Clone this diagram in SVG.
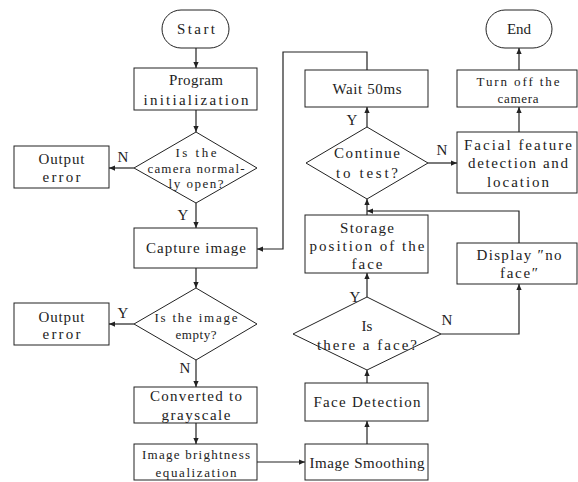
<svg xmlns="http://www.w3.org/2000/svg" width="578" height="482" viewBox="0 0 578 482">
<style>
.b{fill:#fff;stroke:#222;stroke-width:1}
.t{font-family:"Liberation Serif","Times New Roman",serif;font-size:15px;fill:#222;text-anchor:middle}
.s{font-size:13px}
.c{fill:none;stroke:#222;stroke-width:1.2}
</style>
<defs>
<marker id="a" viewBox="0 0 8 8" refX="8" refY="4" markerWidth="6" markerHeight="6" orient="auto" markerUnits="userSpaceOnUse">
<path d="M0,0.5 L8,4 L0,7.5 Z" fill="#222"/>
</marker>
</defs>
<rect width="578" height="482" fill="#fff"/>
<g id="connectors">
<path class="c" d="M196,48 V68" marker-end="url(#a)"/>
<path class="c" d="M196,110 V132" marker-end="url(#a)"/>
<path class="c" d="M134,168 H109" marker-end="url(#a)"/>
<path class="c" d="M196,203 V228" marker-end="url(#a)"/>
<path class="c" d="M196,268 V288" marker-end="url(#a)"/>
<path class="c" d="M134,324 H109" marker-end="url(#a)"/>
<path class="c" d="M196,360 V387" marker-end="url(#a)"/>
<path class="c" d="M196,423 V444" marker-end="url(#a)"/>
<path class="c" d="M257,462 H305" marker-end="url(#a)"/>
<path class="c" d="M367,444 V421" marker-end="url(#a)"/>
<path class="c" d="M367,383 V370" marker-end="url(#a)"/>
<path class="c" d="M367,297 V273" marker-end="url(#a)"/>
<path class="c" d="M441,334 H519 V284" marker-end="url(#a)"/>
<path class="c" d="M519,243 V211 H367" marker-end="url(#a)"/>
<path class="c" d="M367,215 V199" marker-end="url(#a)"/>
<path class="c" d="M367,127 V107" marker-end="url(#a)"/>
<path class="c" d="M428,163 H457" marker-end="url(#a)"/>
<path class="c" d="M519,132 V107" marker-end="url(#a)"/>
<path class="c" d="M519,70 V48" marker-end="url(#a)"/>
<path class="c" d="M367,70 V52 H283 V249 H257" marker-end="url(#a)"/>
<text class="t" x="123" y="162">N</text>
<text class="t" x="183" y="220">Y</text>
<text class="t" x="123" y="318">Y</text>
<text class="t" x="185" y="373">N</text>
<text class="t" x="352" y="125">Y</text>
<text class="t" x="442" y="155">N</text>
<text class="t" x="355" y="302">Y</text>
<text class="t" x="447" y="325">N</text>
</g>
<g id="start">
<rect class="b" x="162" y="10" width="67" height="38" rx="19"/>
<text class="t" x="196" y="34" textLength="38" lengthAdjust="spacing">Start</text>
</g>
<g id="init">
<rect class="b" x="134" y="68" width="123" height="42"/>
<text class="t" x="196" y="85" textLength="54" lengthAdjust="spacing">Program</text>
<text class="t" x="196" y="105" textLength="105" lengthAdjust="spacing">initialization</text>
</g>
<g id="camera-open">
<polygon class="b" points="196,132 257,168 196,203 134,168"/>
<text class="t s" x="196" y="156.5" textLength="41" lengthAdjust="spacing">Is the</text>
<text class="t s" x="196" y="172.5" textLength="97" lengthAdjust="spacing">camera normal-</text>
<text class="t s" x="196" y="187.5" textLength="55" lengthAdjust="spacing">ly open?</text>
</g>
<g id="error1">
<rect class="b" x="14" y="146" width="95" height="42"/>
<text class="t" x="61.5" y="164" textLength="46" lengthAdjust="spacing">Output</text>
<text class="t" x="61.5" y="182" textLength="38" lengthAdjust="spacing">error</text>
</g>
<g id="capture">
<rect class="b" x="134" y="228" width="123" height="40"/>
<text class="t" x="196" y="253" textLength="100" lengthAdjust="spacing">Capture image</text>
</g>
<g id="empty">
<polygon class="b" points="196,288 257,324 196,360 134,324"/>
<text class="t s" x="196" y="321.5" textLength="83" lengthAdjust="spacing">Is the image</text>
<text class="t s" x="196" y="338.5" textLength="41" lengthAdjust="spacing">empty?</text>
</g>
<g id="error2">
<rect class="b" x="14" y="303" width="95" height="42"/>
<text class="t" x="61.5" y="322" textLength="46" lengthAdjust="spacing">Output</text>
<text class="t" x="61.5" y="339" textLength="38" lengthAdjust="spacing">error</text>
</g>
<g id="gray">
<rect class="b" x="134" y="387" width="123" height="36"/>
<text class="t" x="196" y="401" textLength="92" lengthAdjust="spacing">Converted to</text>
<text class="t" x="196" y="420" textLength="69" lengthAdjust="spacing">grayscale</text>
</g>
<g id="bright">
<rect class="b" x="134" y="444" width="123" height="36"/>
<text class="t s" x="196" y="458.5" textLength="108" lengthAdjust="spacing">Image brightness</text>
<text class="t s" x="196" y="476.5" textLength="81" lengthAdjust="spacing">equalization</text>
</g>
<g id="smooth">
<rect class="b" x="305" y="444" width="123" height="36"/>
<text class="t" x="367" y="468" textLength="115" lengthAdjust="spacing">Image Smoothing</text>
</g>
<g id="facedet">
<rect class="b" x="305" y="383" width="123" height="38"/>
<text class="t" x="367" y="407" textLength="107" lengthAdjust="spacing">Face Detection</text>
</g>
<g id="isface">
<polygon class="b" points="367,297 441,334 367,370 293,334"/>
<text class="t" x="367" y="331">Is</text>
<text class="t" x="367" y="350" textLength="100" lengthAdjust="spacing">there a face?</text>
</g>
<g id="noface">
<rect class="b" x="457" y="243" width="120" height="41"/>
<text class="t" x="519" y="260" textLength="85" lengthAdjust="spacing">Display ″no</text>
<text class="t" x="519" y="278" textLength="38" lengthAdjust="spacing">face″</text>
</g>
<g id="storage">
<rect class="b" x="305" y="215" width="123" height="58"/>
<text class="t" x="367" y="233" textLength="54" lengthAdjust="spacing">Storage</text>
<text class="t" x="367" y="251" textLength="115" lengthAdjust="spacing">position of the</text>
<text class="t" x="367" y="269" textLength="31" lengthAdjust="spacing">face</text>
</g>
<g id="continue">
<polygon class="b" points="367,127 428,163 367,199 306,163"/>
<text class="t" x="367" y="158" textLength="66" lengthAdjust="spacing">Continue</text>
<text class="t" x="367" y="178" textLength="62" lengthAdjust="spacing">to test?</text>
</g>
<g id="wait">
<rect class="b" x="305" y="70" width="123" height="37"/>
<text class="t" x="367" y="94" textLength="69" lengthAdjust="spacing">Wait 50ms</text>
</g>
<g id="facial">
<rect class="b" x="457" y="132" width="120" height="61"/>
<text class="t" x="518" y="150" textLength="108" lengthAdjust="spacing">Facial feature</text>
<text class="t" x="518" y="168" textLength="100" lengthAdjust="spacing">detection and</text>
<text class="t" x="518" y="187" textLength="62" lengthAdjust="spacing">location</text>
</g>
<g id="cameraoff">
<rect class="b" x="457" y="70" width="120" height="37"/>
<text class="t s" x="518" y="85.5" textLength="83" lengthAdjust="spacing">Turn off the</text>
<text class="t s" x="518" y="102.5" textLength="41" lengthAdjust="spacing">camera</text>
</g>
<g id="end">
<rect class="b" x="486" y="10" width="66" height="38" rx="19"/>
<text class="t" x="519" y="34">End</text>
</g>
</svg>
